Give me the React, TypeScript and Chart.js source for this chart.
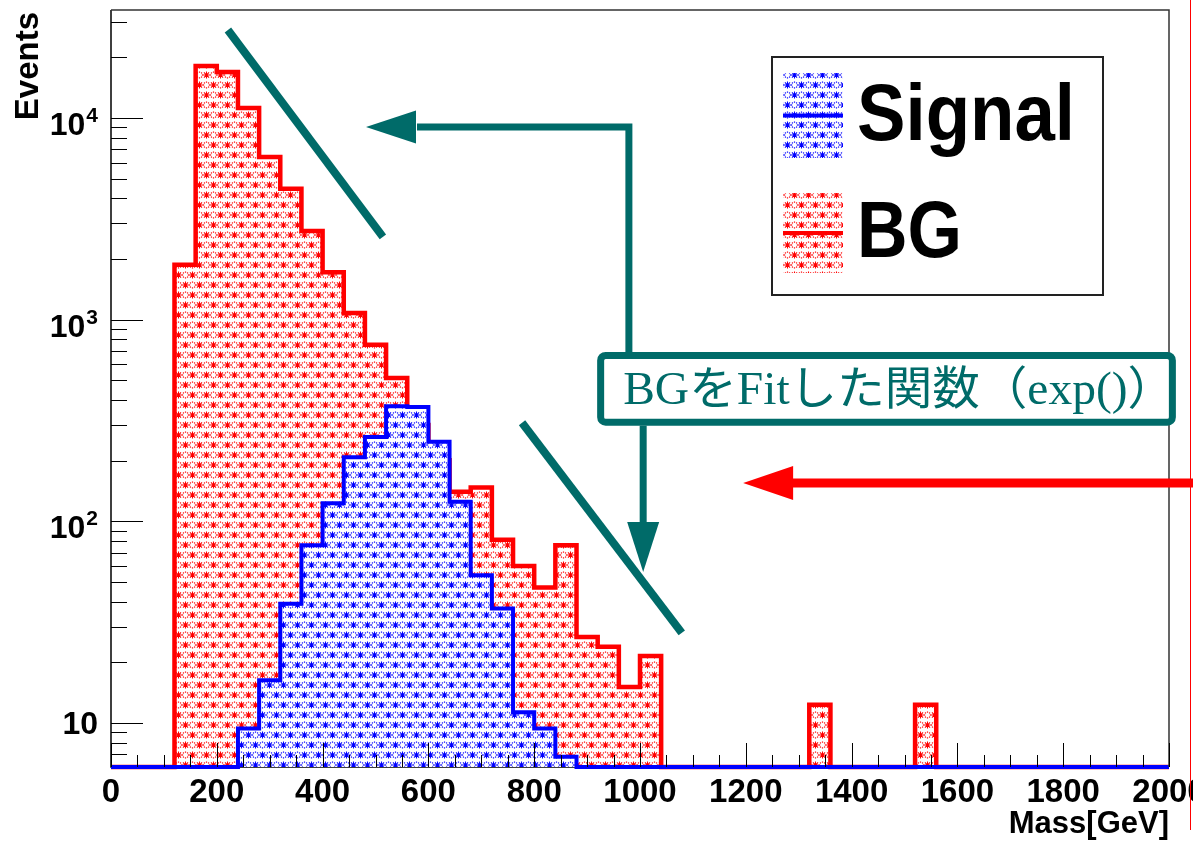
import React, { useEffect, useRef } from 'react';
import { Chart, registerables } from 'chart.js';

Chart.register(...registerables);

// ---------------- data ----------------
const BIN_WIDTH = 40; // GeV
const BIN_LOW = [
  0, 40, 80, 120, 160, 200, 240, 280, 320, 360,
  400, 440, 480, 520, 560, 600, 640, 680, 720, 760,
  800, 840, 880, 920, 960, 1000, 1040, 1080, 1120, 1160,
  1200, 1240, 1280, 1320, 1360, 1400, 1440, 1480, 1520, 1560,
  1600, 1640, 1680, 1720, 1760, 1800, 1840, 1880, 1920, 1960,
];
const SIGNAL = [
  0, 0, 0, 0, 0, 0, 9.4, 16.3, 39, 76,
  123, 208, 262, 372, 369, 248, 125, 54, 37, 11.3,
  9.4, 6.8, 0, 0, 0, 0, 0, 0, 0, 0,
  0, 0, 0, 0, 0, 0, 0, 0, 0, 0,
  0, 0, 0, 0, 0, 0, 0, 0, 0, 0,
];
const BG = [
  0, 0, 0, 1870, 18100, 16900, 11200, 6400, 4450, 2750,
  1720, 1080, 750, 514, 300, 201, 140, 147, 81, 60,
  47, 76, 26.7, 23.9, 15.1, 21.5, 0, 0, 0, 0,
  0, 0, 0, 12.3, 0, 0, 0, 0, 12.3, 0,
  0, 0, 0, 0, 0, 0, 0, 0, 0, 0,
];
const SERIES_NAMES = ['Signal', 'BG'];
const X_MIN = 0;
const X_MAX = 2000;
const X_MAJOR_TICKS = [0, 200, 400, 600, 800, 1000, 1200, 1400, 1600, 1800, 2000];
const X_TICK_LABELS = ['0', '200', '400', '600', '800', '1000', '1200', '1400', '1600', '1800', '2000'];
const X_MINOR_STEP = 50;
const Y_MIN = 6.05;
const Y_MAX = 34300;
const Y_MAJOR_TICKS = [10, 100, 1000, 10000];
const Y_TICK_BASE = ['10', '10', '10', '10'];
const Y_TICK_EXP = ['', '2', '3', '4'];
const X_TITLE = 'Mass[GeV]';
const Y_TITLE = 'Events';
const NOTE_TEXT = 'BGをFitした関数（exp()）';

// annotation geometry in data units (GeV, events)
const FIT_LINE_A = [[221, 27300], [514, 2570]];
const FIT_LINE_B = [[777, 308], [1079, 28]];
const ELBOW_ARROW = [[979, 690], [979, 9020], [482, 9020]]; // box -> corner -> tip
const NOTE_BOX = [[919, 692], [2013, 298]];
const DOWN_ARROW = [[1006, 298], [1006, 56]];
const RED_ARROW = [[2050, 155], [1195, 155]];

const TEAL = '#006b69';
const SANS = '"Liberation Sans", Arial, Helvetica, sans-serif';

function makePattern(color: string): CanvasPattern | string {
  const c = document.createElement('canvas');
  c.width = 14;
  c.height = 20;
  const g = c.getContext('2d');
  if (!g) return color;
  g.fillStyle = '#ffffff';
  g.fillRect(0, 0, 14, 20);
  g.strokeStyle = color;
  g.fillStyle = color;
  g.lineWidth = 1.05;
  const star = (cx: number, cy: number) => {
    const r = 3.6;
    g.beginPath();
    for (let k = 0; k < 4; k++) {
      const a = (k * Math.PI) / 4;
      g.moveTo(cx - r * Math.cos(a), cy - r * Math.sin(a));
      g.lineTo(cx + r * Math.cos(a), cy + r * Math.sin(a));
    }
    g.stroke();
  };
  const ring = (cx: number, cy: number) => {
    const r = 2.9;
    for (let k = 0; k < 8; k++) {
      const a = (k * Math.PI) / 4;
      g.fillRect(cx + r * Math.cos(a) - 0.6, cy + r * Math.sin(a) - 0.6, 1.2, 1.2);
    }
  };
  star(3.5, 5);
  ring(10.5, 5);
  ring(3.5, 15);
  star(10.5, 15);
  return g.createPattern(c, 'repeat') || color;
}

function toPoints(vals: number[]) {
  const pts = BIN_LOW.map((lo, i) => ({ x: lo, y: vals[i] > 0 ? vals[i] : Y_MIN }));
  pts.push({ x: BIN_LOW[BIN_LOW.length - 1] + BIN_WIDTH, y: Y_MIN });
  return pts;
}

export default function App() {
  const canvasRef = useRef<HTMLCanvasElement | null>(null);

  useEffect(() => {
    const canvas = canvasRef.current;
    if (!canvas) return;
    const bluePattern = makePattern('#0000ff');
    const redPattern = makePattern('#ff0000');

    const rootStyle = {
      id: 'rootStyle',
      beforeDatasetsDraw(chart: any) {
        const { ctx, chartArea: a } = chart;
        ctx.save();
        ctx.strokeStyle = '#000';
        ctx.lineWidth = 1.5;
        ctx.beginPath();
        ctx.moveTo(a.left, a.top);
        ctx.lineTo(a.left, a.bottom);
        ctx.lineTo(a.right, a.bottom);
        ctx.stroke();
        ctx.restore();
      },
      afterDatasetsDraw(chart: any) {
        const { ctx, chartArea: a, scales } = chart;
        const xs = scales.x;
        const ys = scales.y;
        ctx.save();
        // frame top/right
        ctx.strokeStyle = '#333';
        ctx.lineWidth = 1.5;
        ctx.beginPath();
        ctx.moveTo(a.left, a.top);
        ctx.lineTo(a.right, a.top);
        ctx.lineTo(a.right, a.bottom);
        ctx.stroke();

        // x ticks (inside, upward)
        ctx.strokeStyle = '#000';
        ctx.lineWidth = 1;
        ctx.beginPath();
        for (let v = X_MIN; v <= X_MAX; v += X_MINOR_STEP) {
          const px = Math.round(xs.getPixelForValue(v)) + 0.5;
          const major = X_MAJOR_TICKS.includes(v);
          ctx.moveTo(px, a.bottom);
          ctx.lineTo(px, a.bottom - (major ? 24 : 12));
        }
        ctx.stroke();

        // y ticks (inside, rightward)
        ctx.beginPath();
        for (let d = 1; d <= 100000; d *= 10) {
          for (let m = 1; m <= 9; m++) {
            const v = m * d;
            if (v < Y_MIN || v > Y_MAX) continue;
            const py = Math.round(ys.getPixelForValue(v)) + 0.5;
            ctx.moveTo(a.left, py);
            ctx.lineTo(a.left + (m === 1 ? 32 : 16), py);
          }
        }
        ctx.stroke();

        // x tick labels
        ctx.fillStyle = '#000';
        ctx.font = `bold 33px ${SANS}`;
        ctx.textAlign = 'center';
        ctx.textBaseline = 'alphabetic';
        X_MAJOR_TICKS.forEach((v, i) => {
          ctx.fillText(X_TICK_LABELS[i], xs.getPixelForValue(v), a.bottom + 35);
        });

        // y tick labels with superscripts
        Y_MAJOR_TICKS.forEach((v, i) => {
          const py = ys.getPixelForValue(v);
          const exp = Y_TICK_EXP[i];
          if (exp) {
            ctx.font = `bold 21px ${SANS}`;
            ctx.textAlign = 'right';
            ctx.fillText(exp, 98, py + 4);
            const w = ctx.measureText(exp).width;
            ctx.font = `bold 32px ${SANS}`;
            ctx.fillText(Y_TICK_BASE[i], 98 - w - 1, py + 17);
          } else {
            ctx.font = `bold 32px ${SANS}`;
            ctx.textAlign = 'right';
            ctx.fillText(Y_TICK_BASE[i], 98, py + 11);
          }
        });

        // axis titles
        ctx.font = `bold 31px ${SANS}`;
        ctx.textAlign = 'right';
        ctx.fillText(X_TITLE, a.right, a.bottom + 66);
        ctx.save();
        ctx.translate(38, a.top + 2);
        ctx.rotate(-Math.PI / 2);
        ctx.font = `bold 33px ${SANS}`;
        ctx.textAlign = 'right';
        ctx.fillText(Y_TITLE, 0, 0);
        ctx.restore();

        // legend
        const lx = 772, ly = 57, lw = 331, lh = 238;
        ctx.fillStyle = '#fff';
        ctx.fillRect(lx, ly, lw, lh);
        ctx.strokeStyle = '#222';
        ctx.lineWidth = 2;
        ctx.strokeRect(lx, ly, lw, lh);
        const entries = [
          { name: SERIES_NAMES[0], pat: bluePattern, col: '#0000ff', top: 73, bot: 158, w: 218 },
          { name: SERIES_NAMES[1], pat: redPattern, col: '#ff0000', top: 193, bot: 273, w: 105 },
        ];
        entries.forEach((e) => {
          ctx.fillStyle = e.pat as any;
          ctx.fillRect(783, e.top, 60, e.bot - e.top);
          const mid = (e.top + e.bot) / 2;
          ctx.strokeStyle = e.col;
          ctx.lineWidth = 4;
          ctx.beginPath();
          ctx.moveTo(783, mid);
          ctx.lineTo(843, mid);
          ctx.stroke();
          ctx.fillStyle = '#000';
          ctx.font = `bold 80px ${SANS}`;
          ctx.textAlign = 'left';
          ctx.fillText(e.name, 857, mid + 24, e.w);
        });

        // annotations
        const P = (pt: number[]) => [xs.getPixelForValue(pt[0]), ys.getPixelForValue(pt[1])];
        ctx.lineCap = 'butt';
        const seg = (pts: number[][], color: string, width: number) => {
          ctx.strokeStyle = color;
          ctx.lineWidth = width;
          ctx.beginPath();
          pts.forEach((pt, i) => {
            const [px, py] = P(pt);
            if (i === 0) ctx.moveTo(px, py);
            else ctx.lineTo(px, py);
          });
          ctx.stroke();
        };
        const head = (from: number[], tip: number[], color: string, len: number, half: number) => {
          const [fx, fy] = P(from);
          const [tx, ty] = P(tip);
          const ang = Math.atan2(ty - fy, tx - fx);
          const bx = tx - len * Math.cos(ang);
          const by = ty - len * Math.sin(ang);
          ctx.fillStyle = color;
          ctx.beginPath();
          ctx.moveTo(tx, ty);
          ctx.lineTo(bx + half * Math.sin(ang), by - half * Math.cos(ang));
          ctx.lineTo(bx - half * Math.sin(ang), by + half * Math.cos(ang));
          ctx.closePath();
          ctx.fill();
          return [bx, by];
        };
        seg(FIT_LINE_A, TEAL, 8);
        seg(FIT_LINE_B, TEAL, 8);

        // elbow arrow (box -> up -> left)
        {
          const [c0x, c0y] = P(ELBOW_ARROW[0]);
          const [c1x, c1y] = P(ELBOW_ARROW[1]);
          const [bx, by] = head(ELBOW_ARROW[1], ELBOW_ARROW[2], TEAL, 50, 16.5);
          ctx.strokeStyle = TEAL;
          ctx.lineWidth = 7;
          ctx.lineJoin = 'miter';
          ctx.beginPath();
          ctx.moveTo(c0x, c0y);
          ctx.lineTo(c1x, c1y);
          ctx.lineTo(bx + 1, by);
          ctx.stroke();
        }
        // down arrow
        {
          const [s0x, s0y] = P(DOWN_ARROW[0]);
          const [bx, by] = head(DOWN_ARROW[0], DOWN_ARROW[1], TEAL, 50, 16);
          ctx.strokeStyle = TEAL;
          ctx.lineWidth = 7;
          ctx.beginPath();
          ctx.moveTo(s0x, s0y);
          ctx.lineTo(bx, by + 1);
          ctx.stroke();
        }
        // red arrow
        {
          const [s0x, s0y] = P(RED_ARROW[0]);
          const [bx, by] = head(RED_ARROW[0], RED_ARROW[1], '#ff0000', 50, 17);
          ctx.strokeStyle = '#ff0000';
          ctx.lineWidth = 9;
          ctx.beginPath();
          ctx.moveTo(s0x, s0y);
          ctx.lineTo(bx - 1, by);
          ctx.stroke();
        }
        // note box
        {
          const [x0, y0] = P(NOTE_BOX[0]);
          const [x1, y1] = P(NOTE_BOX[1]);
          const inset = 3.5;
          const bx = x0 + inset, by = y0 + inset, bw = x1 - x0 - 2 * inset, bh = y1 - y0 - 2 * inset;
          ctx.fillStyle = '#fff';
          ctx.beginPath();
          (ctx as any).roundRect(bx, by, bw, bh, 5);
          ctx.fill();
          ctx.strokeStyle = TEAL;
          ctx.lineWidth = 7;
          ctx.stroke();
          ctx.fillStyle = TEAL;
          ctx.font = `46px "Liberation Serif", "DejaVu Serif", "Noto Sans CJK JP", serif`;
          ctx.textAlign = 'left';
          const tw = ctx.measureText(NOTE_TEXT).width;
          const targetW = 552;
          ctx.save();
          ctx.translate(x0 + 26, y0 + 52);
          ctx.scale(targetW / tw, 1);
          ctx.fillText(NOTE_TEXT, 0, 0);
          ctx.restore();
        }

        // thin red slide line at right edge
        ctx.strokeStyle = '#ff0000';
        ctx.lineWidth = 1;
        ctx.beginPath();
        ctx.moveTo(1190.5, 0);
        ctx.lineTo(1190.5, 830);
        ctx.stroke();

        ctx.restore();
      },
    };

    const chart = new Chart(canvas, {
      type: 'line',
      data: {
        datasets: [
          {
            label: SERIES_NAMES[0],
            data: toPoints(SIGNAL),
            stepped: 'before',
            borderColor: '#0000ff',
            borderWidth: 4,
            backgroundColor: bluePattern as any,
            fill: 'start',
            pointRadius: 0,
            borderJoinStyle: 'miter',
            clip: 4,
          },
          {
            label: SERIES_NAMES[1],
            data: toPoints(BG),
            stepped: 'before',
            borderColor: '#ff0000',
            borderWidth: 4.5,
            backgroundColor: redPattern as any,
            fill: 'start',
            pointRadius: 0,
            borderJoinStyle: 'miter',
            clip: 4,
          },
        ],
      },
      options: {
        animation: false,
        responsive: false,
        devicePixelRatio: 1,
        events: [],
        layout: { padding: { left: 111, right: 24, top: 10, bottom: 75 } },
        scales: {
          x: { type: 'linear', min: X_MIN, max: X_MAX, display: false },
          y: { type: 'logarithmic', min: Y_MIN, max: Y_MAX, display: false },
        },
        plugins: {
          legend: { display: false },
          tooltip: { enabled: false },
        },
      },
      plugins: [rootStyle],
    } as any);

    return () => chart.destroy();
  }, []);

  return (
    <div style={{ position: 'absolute', left: 0, top: 0, width: 1193, height: 842, background: '#fff' }}>
      <canvas ref={canvasRef} width={1193} height={842} />
    </div>
  );
}
